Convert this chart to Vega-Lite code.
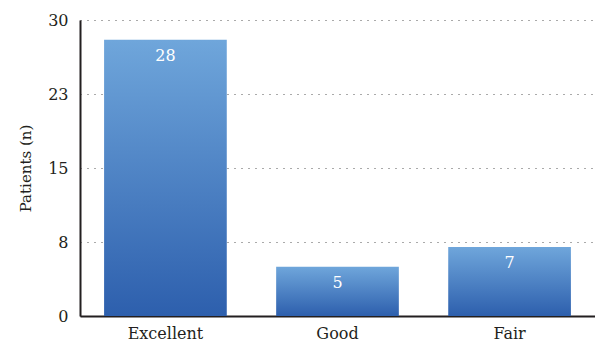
{
  "$schema": "https://vega.github.io/schema/vega-lite/v6.json",
  "autosize": "none",
  "padding": {"left": 80, "top": 20, "right": 0, "bottom": 31},
  "width": 515,
  "height": 296,
  "background": "white",
  "config": {"view": {"stroke": null}, "font": "DejaVu Serif"},
  "data": {"values": [
    {"rating": "Excellent", "patients": 28},
    {"rating": "Good", "patients": 5},
    {"rating": "Fair", "patients": 7}
  ]},
  "encoding": {
    "x": {"field": "rating", "type": "nominal", "sort": null,
      "scale": {"paddingInner": 0.287, "paddingOuter": 0.14},
      "axis": {"title": null, "labelAngle": 0, "labelFontSize": 16, "labelColor": "#231f20", "labelPadding": 9, "ticks": false, "domainColor": "#231f20", "domainWidth": 2, "labelFont": "DejaVu Serif"}},
    "y": {"field": "patients", "type": "quantitative",
      "scale": {"domain": [0, 30], "nice": false},
      "axis": {"title": "Patients (n)", "titleFontSize": 15, "titleFontWeight": "normal", "titleColor": "#231f20", "titlePadding": 14, "titleFont": "DejaVu Serif",
        "values": [0, 7.5, 15, 22.5, 30], "labelExpr": "format(round(datum.value), 'd')",
        "labelFontSize": 16, "labelColor": "#231f20", "labelPadding": 12, "labelFont": "DejaVu Serif",
        "ticks": false, "domainColor": "#231f20", "domainWidth": 2,
        "grid": true, "gridColor": "#555", "gridDash": [1, 6], "gridWidth": 1}}
  },
  "layer": [
    {"mark": {"type": "bar", "color": {"gradient": "linear", "x1": 0, "y1": 0, "x2": 0, "y2": 1,
      "stops": [{"offset": 0, "color": "#6fa6db"}, {"offset": 1, "color": "#2d5fad"}]}}},
    {"mark": {"type": "text", "baseline": "top", "dy": 8, "color": "white", "fontSize": 16, "font": "DejaVu Serif"},
     "encoding": {"text": {"field": "patients", "type": "quantitative"}}}
  ]
}
